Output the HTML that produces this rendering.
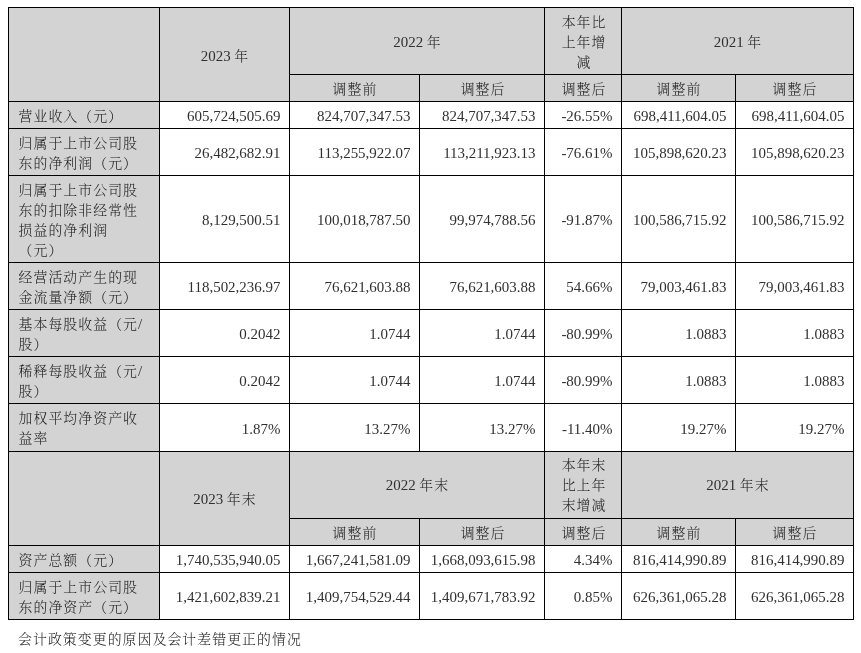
<!DOCTYPE html>
<html lang="zh-CN">
<head>
<meta charset="utf-8">
<title>主要会计数据</title>
<style>
html,body{margin:0;padding:0;background:#fff;}
body{width:861px;height:653px;position:relative;overflow:hidden;
  font-family:"Liberation Serif","Noto Serif CJK SC",serif;font-size:14.95px;line-height:20px;color:#303030;}
table{will-change:transform;position:absolute;left:8px;top:7px;border-collapse:collapse;table-layout:fixed;width:846px;}
td{border:1px solid #000;padding:2px 8.6px 0 9px;vertical-align:middle;text-align:right;background:#fff;overflow:hidden;white-space:nowrap;}
td.h,td.l,.note{font-size:13.9px;letter-spacing:1.05px;font-weight:300;color:#222;}
td.h{background:#d3d3d3;text-align:center;padding:3px 0 0 1px;}
td.u{padding-top:1px;}
td.r{padding-left:2.2px;}
td.l{background:#d3d3d3;text-align:left;padding:3px 0 0 9.5px;}
.n{font-weight:400;font-size:14.95px;letter-spacing:0;color:#303030;}
.note{will-change:transform;position:absolute;left:17.6px;top:630px;white-space:nowrap;}
</style>
</head>
<body>
<table>
<colgroup><col style="width:151px"><col style="width:130px"><col style="width:130px"><col style="width:125px"><col style="width:77px"><col style="width:114px"><col style="width:118px"></colgroup>
<tr style="height:67px"><td class="h" rowspan="2"></td><td class="h" rowspan="2"><span class="n">2023 </span>年</td><td class="h" colspan="2"><span class="n">2022 </span>年</td><td class="h r">本年比<br>上年增<br>减</td><td class="h" colspan="2"><span class="n">2021 </span>年</td></tr>
<tr style="height:27px"><td class="h">调整前</td><td class="h r">调整后</td><td class="h r">调整后</td><td class="h">调整前</td><td class="h">调整后</td></tr>
<tr style="height:27px"><td class="l">营业收入（元）</td><td>605,724,505.69</td><td>824,707,347.53</td><td>824,707,347.53</td><td>-26.55%</td><td>698,411,604.05</td><td>698,411,604.05</td></tr>
<tr style="height:47px"><td class="l">归属于上市公司股<br>东的净利润（元）</td><td>26,482,682.91</td><td>113,255,922.07</td><td>113,211,923.13</td><td>-76.61%</td><td>105,898,620.23</td><td>105,898,620.23</td></tr>
<tr style="height:87px"><td class="l">归属于上市公司股<br>东的扣除非经常性<br>损益的净利润<br>（元）</td><td>8,129,500.51</td><td>100,018,787.50</td><td>99,974,788.56</td><td>-91.87%</td><td>100,586,715.92</td><td>100,586,715.92</td></tr>
<tr style="height:47px"><td class="l">经营活动产生的现<br>金流量净额（元）</td><td>118,502,236.97</td><td>76,621,603.88</td><td>76,621,603.88</td><td>54.66%</td><td>79,003,461.83</td><td>79,003,461.83</td></tr>
<tr style="height:47px"><td class="l">基本每股收益（元<span class="n">/</span><br>股）</td><td>0.2042</td><td>1.0744</td><td>1.0744</td><td>-80.99%</td><td>1.0883</td><td>1.0883</td></tr>
<tr style="height:47px"><td class="l">稀释每股收益（元<span class="n">/</span><br>股）</td><td>0.2042</td><td>1.0744</td><td>1.0744</td><td>-80.99%</td><td>1.0883</td><td>1.0883</td></tr>
<tr style="height:48px"><td class="l">加权平均净资产收<br>益率</td><td>1.87%</td><td>13.27%</td><td>13.27%</td><td>-11.40%</td><td>19.27%</td><td>19.27%</td></tr>
<tr style="height:67px"><td class="h u" rowspan="2"></td><td class="h u" rowspan="2"><span class="n">2023 </span>年末</td><td class="h u" colspan="2"><span class="n">2022 </span>年末</td><td class="h u r">本年末<br>比上年<br>末增减</td><td class="h u" colspan="2"><span class="n">2021 </span>年末</td></tr>
<tr style="height:27px"><td class="h">调整前</td><td class="h r">调整后</td><td class="h r">调整后</td><td class="h">调整前</td><td class="h">调整后</td></tr>
<tr style="height:27px"><td class="l">资产总额（元）</td><td>1,740,535,940.05</td><td>1,667,241,581.09</td><td>1,668,093,615.98</td><td>4.34%</td><td>816,414,990.89</td><td>816,414,990.89</td></tr>
<tr style="height:47px"><td class="l">归属于上市公司股<br>东的净资产（元）</td><td>1,421,602,839.21</td><td>1,409,754,529.44</td><td>1,409,671,783.92</td><td>0.85%</td><td>626,361,065.28</td><td>626,361,065.28</td></tr>
</table>
<div class="note">会计政策变更的原因及会计差错更正的情况</div>
</body>
</html>
